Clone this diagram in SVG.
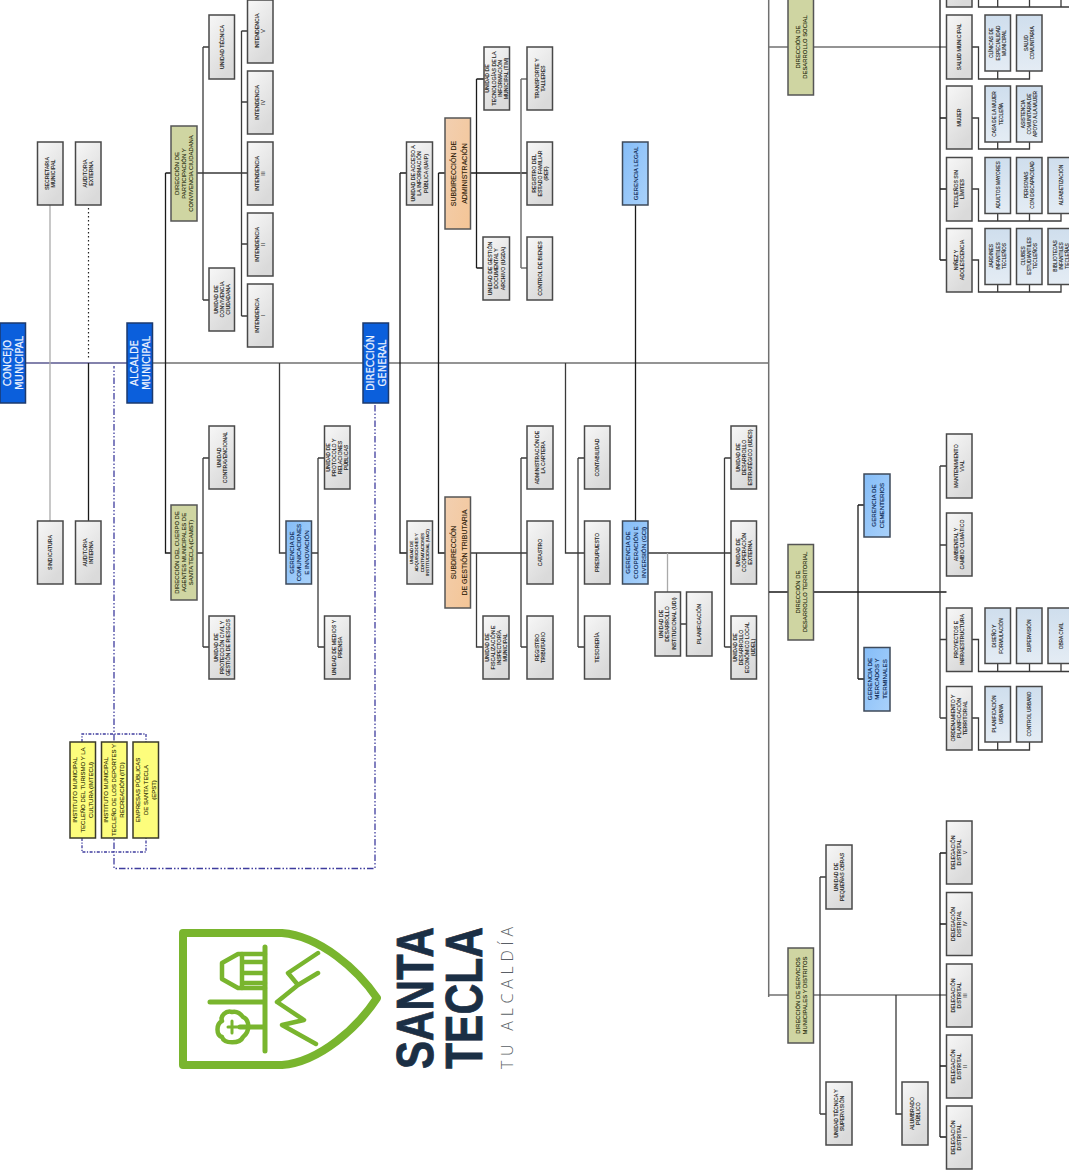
<svg xmlns="http://www.w3.org/2000/svg" width="1069" height="1171" viewBox="0 0 1069 1171">
<style>
text{font-family:"Liberation Sans",Arial,sans-serif;text-anchor:middle;fill:#161616}
.t{font-size:5.2px;stroke:#161616;stroke-width:.12}
.s{font-size:4.8px;stroke:#161616;stroke-width:.1}
.u{font-size:4.3px;stroke:#161616;stroke-width:.1}
.o{font-size:5.9px;fill:#23260a;stroke:#23260a;stroke-width:.1}
.g{font-size:6.2px;fill:#0a2450;stroke:#0a2450;stroke-width:.12}
.p{font-size:7px;fill:#2e1c0a;stroke:#2e1c0a;stroke-width:.12}
.y{font-size:6px;fill:#2a2a05;stroke:#2a2a05;stroke-width:.1}
.b{font-family:"DejaVu Sans","Liberation Sans",sans-serif;font-size:10px;fill:#eef4ff;stroke:#eef4ff;stroke-width:.2}
rect{stroke:#484848;stroke-width:1.5}
.rg{fill:url(#gg)}.rc{fill:url(#gc)}.ro{fill:#cfd5a2;stroke:#555}.rl{fill:url(#gl);stroke:#3e4a5a}.rp{fill:url(#gp);stroke:#555}.ry{fill:#fdfd7c;stroke:#3a3a2a}.rb{fill:#0b5fdc;stroke:#1c3a6e}
#connectors path{fill:none;stroke:#3a3a3a;stroke-width:1.3}
#connectors .m{stroke:#707070;stroke-width:1.5}
#connectors .v{stroke:#5a5890;stroke-width:1.4}
#connectors .l{stroke:#aaa;stroke-width:1.3}
#connectors .k{stroke:#1a1a1a}
#connectors .d{stroke:#222;stroke-width:1.2;stroke-dasharray:1.5 2.5}
#connectors .h{stroke:#3f3d9e;stroke-width:1.3;stroke-dasharray:6.5 2 1.5 2 1.5 2}
#connectors .e{stroke:#3f3d9e;stroke-width:1.3;stroke-dasharray:3 1.5 1.2 1.5}
#logo path{fill:none;stroke:#79b52e;stroke-linecap:round;stroke-linejoin:round}
</style>
<defs>
<linearGradient id="gg" x1="0" y1="0" x2="0.5" y2="1"><stop offset="0" stop-color="#f7f7f7"/><stop offset="1" stop-color="#dadada"/></linearGradient>
<linearGradient id="gc" x1="0" y1="0" x2="0" y2="1"><stop offset="0" stop-color="#cfdeed"/><stop offset="1" stop-color="#e4ecf4"/></linearGradient>
<linearGradient id="gl" x1="0" y1="0" x2="1" y2="1"><stop offset="0" stop-color="#85bdf8"/><stop offset="1" stop-color="#a9d1fa"/></linearGradient>
<linearGradient id="gp" x1="0" y1="0" x2="1" y2="1"><stop offset="0" stop-color="#f2cfb0"/><stop offset="1" stop-color="#f4c596"/></linearGradient>
</defs>
<g id="connectors">
<path class="m" d="M127 363H768.7"/>
<path class="v" d="M25 363H127"/>
<path class="m" d="M768.7 0V997"/>
<path class="l" d="M50 205V521"/>
<path class="d" d="M88.5 208V360"/>
<path class="k" d="M88.5 363V521"/>
<path class="k" d="M165.5 173V553H171M165.5 173H171"/>
<path d="M197 173H247.5M203 47V300M203 47H209M203 300H209"/>
<path d="M241.5 31V316M241.5 31H247.5M241.5 102H247.5M241.5 244H247.5M241.5 316H247.5"/>
<path d="M197 553H203M203 458V647M203 458H209M203 647H209"/>
<path d="M279.5 363V553H286M311.5 553H318M318 458V647M318 458H324.5M318 647H324.5"/>
<path class="k" d="M400 173V553H407M400 173H406.5"/>
<path class="k" d="M438.5 173V553H445M438.5 173H445"/>
<path class="k" d="M470.5 173H527M476.5 79V268M476.5 79H484M476.5 268H483"/>
<path class="m" d="M521 79V268M521 79H527M521 268H527"/>
<path d="M470.5 553H527M476.5 553V647H483M521 458V647M521 458H527M521 647H527"/>
<path d="M565.5 363V553H584.5M578 458V647M578 458H584.5M578 647H584.5"/>
<path class="k" d="M635.5 205V521"/>
<path d="M648 553H731M724.5 458V647M724.5 458H731M724.5 647H731M680 624H686.5"/>
<path class="l" d="M667.5 553V592"/>
<path class="m" d="M769 47H946.5"/>
<path class="k" d="M940 0V260M940 118H946.5M940 189H946.5M940 260H946.5"/>
<path d="M972 47H978.5V79H1029.5V71M997.7 79V71"/>
<path d="M972 118H978.5V149H1029.5V142M997.7 149V142"/>
<path d="M972 189H978.5V221H1061V213M997.7 221V213M1029.5 221V213"/>
<path d="M972 260H978.5V292H1061V284M997.7 292V284M1029.5 292V284"/>
<path d="M978.5 0V7H1069M997.7 7V0M1029.5 7V0M1061 7V0"/>
<path class="k" d="M769 592H946.5M858 505V679M858 505H864M858 679H864"/>
<path d="M940 466V718M940 466H946.5M940 545H946.5M940 639.5H946.5M940 718H946.5"/>
<path d="M972 639.5H978.5V671.5H1069M997.7 671.5V663M1029.5 671.5V663M1061 671.5V663"/>
<path d="M972 718H978.5V750H1029.5V742M997.7 750V742"/>
<path class="m" d="M768.7 995H946.5"/>
<path d="M820 877V1114M820 877H826M820 1114H826M896 995V1114H902"/>
<path class="k" d="M940 853V1137M940 853H946.5M940 924H946.5M940 1066H946.5M940 1137H946.5"/>
<path class="h" d="M375 405V868.5H114V366"/>
<path class="e" d="M82 742V734H146V742M82 838V852H146V838"/>
</g>
<g id="concejo"><rect class="rb" x="0" y="323" width="25.5" height="80"/><text class="b" transform="translate(12.5 363) rotate(-90)"><tspan x="0" y="-2">CONCEJO</tspan><tspan x="0" y="10">MUNICIPAL</tspan></text></g>
<g id="alcalde"><rect class="rb" x="127" y="323" width="25.5" height="80"/><text class="b" transform="translate(139.5 363) rotate(-90)"><tspan x="0" y="-2">ALCALDE</tspan><tspan x="0" y="10">MUNICIPAL</tspan></text></g>
<g id="direccion-general"><rect class="rb" x="363" y="323" width="25.5" height="80"/><text class="b" transform="translate(375.5 363) rotate(-90)"><tspan x="0" y="-2">DIRECCIÓN</tspan><tspan x="0" y="10">GENERAL</tspan></text></g>
<g id="secretaria"><rect class="rg" x="37.5" y="142" width="25.5" height="63"/><text class="t" transform="translate(50 173.5) rotate(-90)"><tspan x="0" y="-1.3">SECRETARIA</tspan><tspan x="0" y="4.9">MUNICIPAL</tspan></text></g>
<g id="auditoria-externa"><rect class="rg" x="75.5" y="142" width="25.5" height="63"/><text class="t" transform="translate(88.5 173.5) rotate(-90)"><tspan x="0" y="-1.3">AUDITORIA</tspan><tspan x="0" y="4.9">EXTERNA</tspan></text></g>
<g id="sindicatura"><rect class="rg" x="37.5" y="521" width="25.5" height="63"/><text class="t" transform="translate(50 552.5) rotate(-90)"><tspan x="0" y="1.8">SINDICATURA</tspan></text></g>
<g id="auditoria-interna"><rect class="rg" x="75.5" y="521" width="25.5" height="63"/><text class="t" transform="translate(88.5 552.5) rotate(-90)"><tspan x="0" y="-1.3">AUDITORIA</tspan><tspan x="0" y="4.9">INTERNA</tspan></text></g>
<g id="dir-participacion"><rect class="ro" x="171" y="126" width="26" height="95"/><text class="o" transform="translate(184 173.5) rotate(-90)"><tspan x="0" y="-5">DIRECCIÓN DE</tspan><tspan x="0" y="2">PARTICIPACIÓN Y</tspan><tspan x="0" y="9">CONVIVENCIA CIUDADANA</tspan></text></g>
<g id="unidad-tecnica"><rect class="rg" x="209" y="15" width="25.5" height="64"/><text class="t" transform="translate(222 47) rotate(-90)"><tspan x="0" y="1.8">UNIDAD TÉCNICA</tspan></text></g>
<g id="unidad-convivencia"><rect class="rg" x="209" y="268" width="25.5" height="63"/><text class="t" transform="translate(222 299.5) rotate(-90)"><tspan x="0" y="-4.4">UNIDAD DE</tspan><tspan x="0" y="1.8">CONVIVENCIA</tspan><tspan x="0" y="8">CIUDADANA</tspan></text></g>
<g id="intendencia-5"><rect class="rg" x="247.5" y="0" width="25.5" height="63"/><text class="t" transform="translate(260 31) rotate(-90)"><tspan x="0" y="-1.3">INTENDENCIA</tspan><tspan x="0" y="4.9">V</tspan></text></g>
<g id="intendencia-4"><rect class="rg" x="247.5" y="71" width="25.5" height="63"/><text class="t" transform="translate(260 102.5) rotate(-90)"><tspan x="0" y="-1.3">INTENDENCIA</tspan><tspan x="0" y="4.9">IV</tspan></text></g>
<g id="intendencia-3"><rect class="rg" x="247.5" y="142" width="25.5" height="63"/><text class="t" transform="translate(260 173.5) rotate(-90)"><tspan x="0" y="-1.3">INTENDENCIA</tspan><tspan x="0" y="4.9">III</tspan></text></g>
<g id="intendencia-2"><rect class="rg" x="247.5" y="213" width="25.5" height="63"/><text class="t" transform="translate(260 244.5) rotate(-90)"><tspan x="0" y="-1.3">INTENDENCIA</tspan><tspan x="0" y="4.9">II</tspan></text></g>
<g id="intendencia-1"><rect class="rg" x="247.5" y="284" width="25.5" height="63"/><text class="t" transform="translate(260 315.5) rotate(-90)"><tspan x="0" y="-1.3">INTENDENCIA</tspan><tspan x="0" y="4.9">I</tspan></text></g>
<g id="dir-camst"><rect class="ro" x="171" y="505" width="26" height="95"/><text class="o" transform="translate(184 552.5) rotate(-90)"><tspan x="0" y="-5">DIRECCIÓN DEL CUERPO DE</tspan><tspan x="0" y="2">AGENTES MUNICIPALES DE</tspan><tspan x="0" y="9">SANTA TECLA (CAMST)</tspan></text></g>
<g id="unidad-contravencional"><rect class="rg" x="209" y="426" width="25.5" height="63"/><text class="t" transform="translate(222 457.5) rotate(-90)"><tspan x="0" y="-1.3">UNIDAD</tspan><tspan x="0" y="4.9">CONTRAVENCIONAL</tspan></text></g>
<g id="unidad-proteccion"><rect class="rg" x="209" y="616" width="25.5" height="63"/><text class="t" transform="translate(222 647.5) rotate(-90)"><tspan x="0" y="-4.4">UNIDAD DE</tspan><tspan x="0" y="1.8">PROTECCIÓN CIVIL Y</tspan><tspan x="0" y="8">GESTIÓN DE RIESGOS</tspan></text></g>
<g id="ger-comunicaciones"><rect class="rl" x="286" y="521" width="25.5" height="63"/><text class="g" transform="translate(299 552.5) rotate(-90)"><tspan x="0" y="-5.5">GERENCIA DE</tspan><tspan x="0" y="2">COMUNICACIONES</tspan><tspan x="0" y="9.5">E INNOVACIÓN</tspan></text></g>
<g id="unidad-protocolo"><rect class="rg" x="324.5" y="426" width="25.5" height="63"/><text class="t" transform="translate(337 457.5) rotate(-90)"><tspan x="0" y="-7.5">UNIDAD DE</tspan><tspan x="0" y="-1.3">PROTOCOLO Y</tspan><tspan x="0" y="4.9">RELACIONES</tspan><tspan x="0" y="11.1">PÚBLICAS</tspan></text></g>
<g id="unidad-medios"><rect class="rg" x="324.5" y="616" width="25.5" height="63"/><text class="t" transform="translate(337 647.5) rotate(-90)"><tspan x="0" y="-1.3">UNIDAD DE MEDIOS Y</tspan><tspan x="0" y="4.9">PRENSA</tspan></text></g>
<g id="imtecu"><rect class="ry" x="70" y="742" width="25.5" height="96"/><text class="y" transform="translate(82.5 790) rotate(-90)"><tspan x="0" y="-6">INSTITUTO MUNICIPAL</tspan><tspan x="0" y="2">TECLEÑO DEL TURISMO Y LA</tspan><tspan x="0" y="10">CULTURA (IMTECU)</tspan></text></g>
<g id="itd"><rect class="ry" x="101.5" y="742" width="25.5" height="96"/><text class="y" transform="translate(114 790) rotate(-90)"><tspan x="0" y="-6">INSTITUTO MUNICIPAL</tspan><tspan x="0" y="2">TECLEÑO DE LOS DEPORTES Y</tspan><tspan x="0" y="10">RECREACIÓN (ITD)</tspan></text></g>
<g id="epst"><rect class="ry" x="133" y="742" width="25.5" height="96"/><text class="y" transform="translate(145.5 790) rotate(-90)"><tspan x="0" y="-6">EMPRESAS PÚBLICAS</tspan><tspan x="0" y="2">DE SANTA TECLA</tspan><tspan x="0" y="10">(EPST)</tspan></text></g>
<g id="uaip"><rect class="rg" x="406.5" y="142" width="26" height="63"/><text class="t" transform="translate(419.5 173.5) rotate(-90)"><tspan x="0" y="-4.4">UNIDAD DE ACCESO A</tspan><tspan x="0" y="1.8">LA INFORMACIÓN</tspan><tspan x="0" y="8">PÚBLICA (UAIP)</tspan></text></g>
<g id="subdir-admin"><rect class="rp" x="445" y="118" width="25.5" height="111"/><text class="p" transform="translate(458 173.5) rotate(-90)"><tspan x="0" y="-2">SUBDIRECCIÓN DE</tspan><tspan x="0" y="8.5">ADMINISTRACIÓN</tspan></text></g>
<g id="tim"><rect class="rg" x="484" y="47" width="25.5" height="63"/><text class="t" transform="translate(496.8 78.5) rotate(-90)"><tspan x="0" y="-7.5">UNIDAD DE</tspan><tspan x="0" y="-1.3">TECNOLOGÍAS DE LA</tspan><tspan x="0" y="4.9">INFORMACIÓN</tspan><tspan x="0" y="11.1">MUNICIPAL (TIM)</tspan></text></g>
<g id="ugda"><rect class="rg" x="483" y="237" width="26.5" height="63"/><text class="t" transform="translate(496.5 268.5) rotate(-90)"><tspan x="0" y="-4.4">UNIDAD DE GESTIÓN</tspan><tspan x="0" y="1.8">DOCUMENTAL Y</tspan><tspan x="0" y="8">ARCHIVO (UGDA)</tspan></text></g>
<g id="transporte"><rect class="rg" x="527" y="47" width="25.5" height="63"/><text class="t" transform="translate(540 78.5) rotate(-90)"><tspan x="0" y="-1.3">TRANSPORTE Y</tspan><tspan x="0" y="4.9">TALLERES</tspan></text></g>
<g id="ref"><rect class="rg" x="527" y="142" width="25.5" height="63"/><text class="t" transform="translate(540 173.5) rotate(-90)"><tspan x="0" y="-4.4">REGISTRO DEL</tspan><tspan x="0" y="1.8">ESTADO FAMILIAR</tspan><tspan x="0" y="8">(REF)</tspan></text></g>
<g id="control-bienes"><rect class="rg" x="527" y="237" width="25.5" height="63"/><text class="t" transform="translate(540 268.5) rotate(-90)"><tspan x="0" y="1.8">CONTROL DE BIENES</tspan></text></g>
<g id="gerencia-legal"><rect class="rl" x="622.5" y="142" width="25.5" height="63"/><text class="g" transform="translate(635.5 173.5) rotate(-90)"><tspan x="0" y="2.2">GERENCIA LEGAL</tspan></text></g>
<g id="uaci"><rect class="rg" x="407" y="521" width="25.5" height="63"/><text class="u" transform="translate(419.5 552.5) rotate(-90)"><tspan x="0" y="-6.6">UNIDAD DE</tspan><tspan x="0" y="-1.2">ADQUISICIONES Y</tspan><tspan x="0" y="4.2">CONTRATACIONES</tspan><tspan x="0" y="9.6">INSTITUCIONAL (UACI)</tspan></text></g>
<g id="subdir-trib"><rect class="rp" x="445" y="497" width="25.5" height="111"/><text class="p" transform="translate(458 552.5) rotate(-90)"><tspan x="0" y="-2">SUBDIRECCIÓN</tspan><tspan x="0" y="8.5">DE GESTIÓN TRIBUTARIA</tspan></text></g>
<g id="fiscalizacion"><rect class="rg" x="483" y="616" width="26" height="63"/><text class="t" transform="translate(496 647.5) rotate(-90)"><tspan x="0" y="-7.5">UNIDAD DE</tspan><tspan x="0" y="-1.3">FISCALIZACIÓN E</tspan><tspan x="0" y="4.9">INSPECTORÍA</tspan><tspan x="0" y="11.1">MUNICIPAL</tspan></text></g>
<g id="cartera"><rect class="rg" x="527" y="426" width="26" height="63"/><text class="t" transform="translate(540 457.5) rotate(-90)"><tspan x="0" y="-1.3">ADMINISTRACIÓN DE</tspan><tspan x="0" y="4.9">LA CARTERA</tspan></text></g>
<g id="catastro"><rect class="rg" x="527" y="521" width="26" height="63"/><text class="t" transform="translate(540 552.5) rotate(-90)"><tspan x="0" y="1.8">CATASTRO</tspan></text></g>
<g id="registro-tributario"><rect class="rg" x="527" y="616" width="26" height="63"/><text class="t" transform="translate(540 647.5) rotate(-90)"><tspan x="0" y="-1.3">REGISTRO</tspan><tspan x="0" y="4.9">TRIBUTARIO</tspan></text></g>
<g id="contabilidad"><rect class="rg" x="584.5" y="426" width="25.5" height="63"/><text class="t" transform="translate(597 457.5) rotate(-90)"><tspan x="0" y="1.8">CONTABILIDAD</tspan></text></g>
<g id="presupuesto"><rect class="rg" x="584.5" y="521" width="25.5" height="63"/><text class="t" transform="translate(597 552.5) rotate(-90)"><tspan x="0" y="1.8">PRESUPUESTO</tspan></text></g>
<g id="tesoreria"><rect class="rg" x="584.5" y="616" width="25.5" height="63"/><text class="t" transform="translate(597 647.5) rotate(-90)"><tspan x="0" y="1.8">TESORERÍA</tspan></text></g>
<g id="gci"><rect class="rl" x="622.5" y="521" width="25.5" height="63"/><text class="g" transform="translate(635.5 552.5) rotate(-90)"><tspan x="0" y="-5.5">GERENCIA DE</tspan><tspan x="0" y="2.2">COOPERACIÓN E</tspan><tspan x="0" y="10">INVERSIÓN (GCI)</tspan></text></g>
<g id="udi"><rect class="rg" x="655" y="592" width="25.5" height="64"/><text class="t" transform="translate(667.5 624) rotate(-90)"><tspan x="0" y="-4.4">UNIDAD DE</tspan><tspan x="0" y="1.8">DESARROLLO</tspan><tspan x="0" y="8">INSTITUCIONAL (UDI)</tspan></text></g>
<g id="planificacion"><rect class="rg" x="686.5" y="592" width="25.5" height="64"/><text class="t" transform="translate(699 624) rotate(-90)"><tspan x="0" y="1.8">PLANIFICACIÓN</tspan></text></g>
<g id="udes"><rect class="rg" x="731" y="426" width="25.5" height="63"/><text class="t" transform="translate(744 457.5) rotate(-90)"><tspan x="0" y="-4.4">UNIDAD DE</tspan><tspan x="0" y="1.8">DESARROLLO</tspan><tspan x="0" y="8">ESTRATÉGICO (UDES)</tspan></text></g>
<g id="cooperacion-externa"><rect class="rg" x="731" y="521" width="25.5" height="63"/><text class="t" transform="translate(744 552.5) rotate(-90)"><tspan x="0" y="-4.4">UNIDAD DE</tspan><tspan x="0" y="1.8">COOPERACIÓN</tspan><tspan x="0" y="8">EXTERNA</tspan></text></g>
<g id="udel"><rect class="rg" x="731" y="616" width="25.5" height="63"/><text class="t" transform="translate(744 647.5) rotate(-90)"><tspan x="0" y="-7.5">UNIDAD DE</tspan><tspan x="0" y="-1.3">DESARROLLO</tspan><tspan x="0" y="4.9">ECONÓMICO LOCAL</tspan><tspan x="0" y="11.1">(UDEL)</tspan></text></g>
<g id="dir-social"><rect class="ro" x="788" y="-1" width="25.5" height="96"/><text class="o" transform="translate(801 47) rotate(-90)"><tspan x="0" y="-1.5">DIRECCIÓN DE</tspan><tspan x="0" y="6">DESARROLLO SOCIAL</tspan></text></g>
<g id="top-row"><rect class="rg" x="946.5" y="-56" width="25.5" height="63"/></g>
<g id="salud"><rect class="rg" x="946.5" y="15" width="25.5" height="64"/><text class="t" transform="translate(959 47) rotate(-90)"><tspan x="0" y="1.8">SALUD MUNICIPAL</tspan></text></g>
<g id="mujer"><rect class="rg" x="946.5" y="86" width="25.5" height="63"/><text class="t" transform="translate(959 117.5) rotate(-90)"><tspan x="0" y="1.8">MUJER</tspan></text></g>
<g id="teclenos"><rect class="rg" x="946.5" y="157.5" width="25.5" height="63.5"/><text class="t" transform="translate(959 189) rotate(-90)"><tspan x="0" y="-1.3">TECLEÑOS SIN</tspan><tspan x="0" y="4.9">LÍMITES</tspan></text></g>
<g id="ninez"><rect class="rg" x="946.5" y="228.5" width="25.5" height="63.5"/><text class="t" transform="translate(959 260) rotate(-90)"><tspan x="0" y="-1.3">NIÑEZ Y</tspan><tspan x="0" y="4.9">ADOLESCENCIA</tspan></text></g>
<g id="clinicas"><rect class="rc" x="985" y="15" width="25.5" height="56"/><text class="s" transform="translate(997.7 43) rotate(-90)"><tspan x="0" y="-4.4">CLÍNICAS DE</tspan><tspan x="0" y="1.8">ESPECIALIDAD</tspan><tspan x="0" y="8">MUNICIPAL</tspan></text></g>
<g id="salud-comunitaria"><rect class="rc" x="1016.5" y="15" width="25.5" height="56"/><text class="s" transform="translate(1029.3 43) rotate(-90)"><tspan x="0" y="-1.3">SALUD</tspan><tspan x="0" y="4.9">COMUNITARIA</tspan></text></g>
<g id="casa-mujer"><rect class="rc" x="985" y="86" width="25.5" height="56"/><text class="s" transform="translate(997.7 114) rotate(-90)"><tspan x="0" y="-1.3">CASA DE LA MUJER</tspan><tspan x="0" y="4.9">TECLEÑA</tspan></text></g>
<g id="asistencia"><rect class="rc" x="1016.5" y="86" width="25.5" height="56"/><text class="s" transform="translate(1029.3 114) rotate(-90)"><tspan x="0" y="-4.4">ASISTENCIA</tspan><tspan x="0" y="1.8">COMUNITARIA DE</tspan><tspan x="0" y="8">APOYO A LA MUJER</tspan></text></g>
<g id="adultos"><rect class="rc" x="985" y="157.5" width="25.5" height="56"/><text class="s" transform="translate(997.7 185) rotate(-90)"><tspan x="0" y="1.8">ADULTOS MAYORES</tspan></text></g>
<g id="discapacidad"><rect class="rc" x="1016.5" y="157.5" width="25.5" height="56"/><text class="s" transform="translate(1029.3 185) rotate(-90)"><tspan x="0" y="-1.3">PERSONAS</tspan><tspan x="0" y="4.9">CON DISCAPACIDAD</tspan></text></g>
<g id="alfabetizacion"><rect class="rc" x="1048" y="157.5" width="25.5" height="56"/><text class="s" transform="translate(1061 185) rotate(-90)"><tspan x="0" y="1.8">ALFABETIZACIÓN</tspan></text></g>
<g id="jardines"><rect class="rc" x="985" y="228.5" width="25.5" height="56"/><text class="s" transform="translate(997.7 256) rotate(-90)"><tspan x="0" y="-4.4">JARDINES</tspan><tspan x="0" y="1.8">INFANTILES</tspan><tspan x="0" y="8">TECLEÑOS</tspan></text></g>
<g id="clubes"><rect class="rc" x="1016.5" y="228.5" width="25.5" height="56"/><text class="s" transform="translate(1029.3 256) rotate(-90)"><tspan x="0" y="-4.4">CLUBES</tspan><tspan x="0" y="1.8">ESTUDIANTILES</tspan><tspan x="0" y="8">TECLEÑOS</tspan></text></g>
<g id="bibliotecas"><rect class="rc" x="1048" y="228.5" width="25.5" height="56"/><text class="s" transform="translate(1061 256) rotate(-90)"><tspan x="0" y="-4.4">BIBLIOTECAS</tspan><tspan x="0" y="1.8">INFANTILES</tspan><tspan x="0" y="8">TECLEÑAS</tspan></text></g>
<g id="dir-territorial"><rect class="ro" x="788" y="544.5" width="25.5" height="95.5"/><text class="o" transform="translate(801 592) rotate(-90)"><tspan x="0" y="-1.5">DIRECCIÓN DE</tspan><tspan x="0" y="6">DESARROLLO TERRITORIAL</tspan></text></g>
<g id="cementerios"><rect class="rl" x="864" y="474" width="26" height="63"/><text class="g" transform="translate(877 505.5) rotate(-90)"><tspan x="0" y="-1.5">GERENCIA DE</tspan><tspan x="0" y="6.5">CEMENTERIOS</tspan></text></g>
<g id="mercados"><rect class="rl" x="864" y="647.5" width="26" height="63.5"/><text class="g" transform="translate(877 679) rotate(-90)"><tspan x="0" y="-5.5">GERENCIA DE</tspan><tspan x="0" y="2.2">MERCADOS Y</tspan><tspan x="0" y="10">TERMINALES</tspan></text></g>
<g id="mantenimiento"><rect class="rg" x="946.5" y="434" width="25.5" height="64"/><text class="t" transform="translate(959 466) rotate(-90)"><tspan x="0" y="-1.3">MANTENIMIENTO</tspan><tspan x="0" y="4.9">VIAL</tspan></text></g>
<g id="ambiental"><rect class="rg" x="946.5" y="513" width="25.5" height="63"/><text class="t" transform="translate(959 544.5) rotate(-90)"><tspan x="0" y="-1.3">AMBIENTAL Y</tspan><tspan x="0" y="4.9">CAMBIO CLIMÁTICO</tspan></text></g>
<g id="proyectos"><rect class="rg" x="946.5" y="608" width="25.5" height="63.5"/><text class="t" transform="translate(959 639.5) rotate(-90)"><tspan x="0" y="-1.3">PROYECTOS E</tspan><tspan x="0" y="4.9">INFRAESTRUCTURA</tspan></text></g>
<g id="ordenamiento"><rect class="rg" x="946.5" y="686.5" width="25.5" height="63.5"/><text class="t" transform="translate(959 718) rotate(-90)"><tspan x="0" y="-4.4">ORDENAMIENTO Y</tspan><tspan x="0" y="1.8">PLANIFICACIÓN</tspan><tspan x="0" y="8">TERRITORIAL</tspan></text></g>
<g id="diseno"><rect class="rc" x="985" y="608" width="25.5" height="55.5"/><text class="s" transform="translate(997.7 636) rotate(-90)"><tspan x="0" y="-1.3">DISEÑO Y</tspan><tspan x="0" y="4.9">FORMULACIÓN</tspan></text></g>
<g id="supervision"><rect class="rc" x="1016.5" y="608" width="25.5" height="55.5"/><text class="s" transform="translate(1029.3 636) rotate(-90)"><tspan x="0" y="1.8">SUPERVISIÓN</tspan></text></g>
<g id="obra-civil"><rect class="rc" x="1048" y="608" width="25.5" height="55.5"/><text class="s" transform="translate(1061 636) rotate(-90)"><tspan x="0" y="1.8">OBRA CIVIL</tspan></text></g>
<g id="plan-urbana"><rect class="rc" x="985" y="686.5" width="25.5" height="55.5"/><text class="s" transform="translate(997.7 714) rotate(-90)"><tspan x="0" y="-1.3">PLANIFICACIÓN</tspan><tspan x="0" y="4.9">URBANA</tspan></text></g>
<g id="control-urbano"><rect class="rc" x="1016.5" y="686.5" width="25.5" height="55.5"/><text class="s" transform="translate(1029.3 714) rotate(-90)"><tspan x="0" y="1.8">CONTROL URBANO</tspan></text></g>
<g id="dir-servicios"><rect class="ro" x="788" y="948" width="25.5" height="95"/><text class="o" transform="translate(801 995.5) rotate(-90)"><tspan x="0" y="-1.5">DIRECCIÓN DE SERVICIOS</tspan><tspan x="0" y="6">MUNICIPALES Y DISTRITOS</tspan></text></g>
<g id="pequenas-obras"><rect class="rg" x="826" y="845" width="26" height="64"/><text class="t" transform="translate(839 877) rotate(-90)"><tspan x="0" y="-1.3">UNIDAD DE</tspan><tspan x="0" y="4.9">PEQUEÑAS OBRAS</tspan></text></g>
<g id="tecnica-supervision"><rect class="rg" x="826" y="1082" width="26" height="63"/><text class="t" transform="translate(839 1113.5) rotate(-90)"><tspan x="0" y="-1.3">UNIDAD TÉCNICA Y</tspan><tspan x="0" y="4.9">SUPERVISIÓN</tspan></text></g>
<g id="alumbrado"><rect class="rg" x="902" y="1082" width="26" height="63"/><text class="t" transform="translate(915 1113.5) rotate(-90)"><tspan x="0" y="-1.3">ALUMBRADO</tspan><tspan x="0" y="4.9">PÚBLICO</tspan></text></g>
<g id="delegacion-5"><rect class="rg" x="946.5" y="821" width="25.5" height="63"/><text class="t" transform="translate(959 852.5) rotate(-90)"><tspan x="0" y="-4.4">DELEGACIÓN</tspan><tspan x="0" y="1.8">DISTRITAL</tspan><tspan x="0" y="8">V</tspan></text></g>
<g id="delegacion-4"><rect class="rg" x="946.5" y="892.5" width="25.5" height="63"/><text class="t" transform="translate(959 924) rotate(-90)"><tspan x="0" y="-4.4">DELEGACIÓN</tspan><tspan x="0" y="1.8">DISTRITAL</tspan><tspan x="0" y="8">IV</tspan></text></g>
<g id="delegacion-3"><rect class="rg" x="946.5" y="964" width="25.5" height="63"/><text class="t" transform="translate(959 995.5) rotate(-90)"><tspan x="0" y="-4.4">DELEGACIÓN</tspan><tspan x="0" y="1.8">DISTRITAL</tspan><tspan x="0" y="8">III</tspan></text></g>
<g id="delegacion-2"><rect class="rg" x="946.5" y="1035" width="25.5" height="63"/><text class="t" transform="translate(959 1066.5) rotate(-90)"><tspan x="0" y="-4.4">DELEGACIÓN</tspan><tspan x="0" y="1.8">DISTRITAL</tspan><tspan x="0" y="8">II</tspan></text></g>
<g id="delegacion-1"><rect class="rg" x="946.5" y="1106" width="25.5" height="63"/><text class="t" transform="translate(959 1137.5) rotate(-90)"><tspan x="0" y="-4.4">DELEGACIÓN</tspan><tspan x="0" y="1.8">DISTRITAL</tspan><tspan x="0" y="8">I</tspan></text></g>
<g id="logo">
<path stroke-width="8" d="M183 933H282C320 936 358 970 377 998C358 1027 320 1062 282 1065H183Z"/>
<path stroke-width="5" d="M265 947V1051M210 1002H265M240 1027H265"/>
<path stroke-width="4.5" d="M265 954H238L222 963V979L238 988H265"/>
<path stroke-width="4.5" d="M242 954V988M242 962H265M242 973H265M242 983H265"/>
<path stroke-width="4.5" d="M232 1012C226 1010 220 1016 222 1021C216 1024 216 1035 222 1037C224 1044 240 1044 243 1037C250 1032 250 1020 243 1017C240 1013 236 1011 232 1012Z"/>
<path stroke-width="3" d="M245 1027H228M232 1021V1033"/>
<path stroke-width="4.5" d="M318 953L288 973L298 985L318 973M298 985L277 1002L304 1020L282 1025L316 1044"/>
<text transform="translate(433 1069) rotate(-90)" x="0" y="0" textLength="142" lengthAdjust="spacingAndGlyphs" style="text-anchor:start;font-size:52px;font-weight:bold;fill:#1b2f45;stroke:#1b2f45;stroke-width:.8">SANTA</text>
<text transform="translate(482 1069) rotate(-90)" x="0" y="0" textLength="142" lengthAdjust="spacingAndGlyphs" style="text-anchor:start;font-size:52px;font-weight:bold;fill:#1b2f45;stroke:#1b2f45;stroke-width:.8">TECLA</text>
<text transform="translate(513 1069) rotate(-90)" x="0" y="0" textLength="142" lengthAdjust="spacing" style="text-anchor:start;font-family:'Open Sans','Liberation Sans',sans-serif;font-weight:300;font-size:16px;fill:#5a5f66">TU ALCALDÍA</text>
</g>
</svg>
